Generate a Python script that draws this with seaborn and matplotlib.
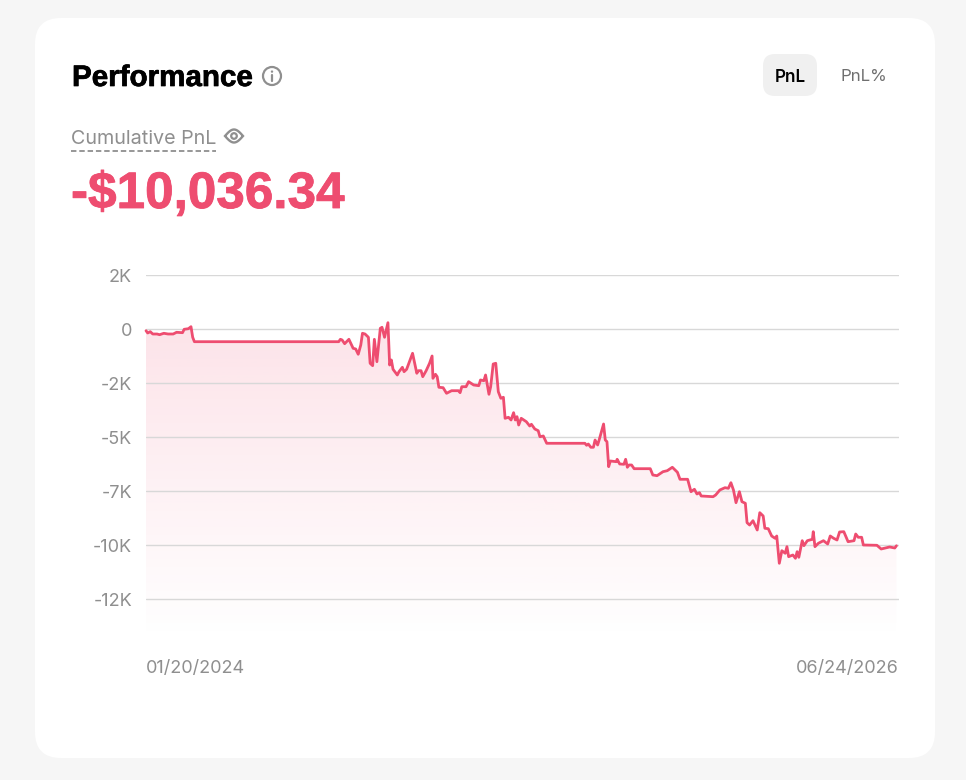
import numpy as np
import pandas as pd
import matplotlib
matplotlib.use("Agg")
import matplotlib.pyplot as plt
import matplotlib.patheffects as pe
from matplotlib.patches import FancyBboxPatch, Circle, Polygon
from matplotlib.transforms import ScaledTranslation
import seaborn as sns

days = [0,2,5,8,13,16,21,26,32,36,43,45,50,53,55,57,227,229,231,234,239,244,247,250,253,255,258,262,264,267,269,272,276,278,281,285,287,289,291,296,298,
302,304,307,314,319,321,324,326,330,334,337,338,341,343,345,350,354,360,368,370,372,377,380,386,392,394,398,400,404,406,409,412,415,418,421,423,427,430,433,435,437,439,442,448,452,454,458,462,464,468,472,517,519,521,524,527,529,532,534,537,539,541,543,545,547,554,555,558,563,565,567,569,572,575,594,
597,602,609,614,620,626,629,638,642,646,649,652,654,668,671,676,682,686,689,692,695,699,702,706,708,711,715,720,723,727,729,733,737,741,743,746,749,753,755,757,762,765,767,769,773,775,779,785,786,788,792,798,803,806,810,814,817,822,827,834,836,839,843,845,861,866,876,882,884]
pnl = [-79,-185,-125,-232,-232,-264,-199,-232,-232,-153,-171,-14,14,107,-384,-588,-588,-477,-509,-681,-477,-894,-926,-1171,-741,-199,-232,-384,-1588,-1699,-477,-1514,32,79,-384,292,-1667,-1435,-1866,-2130,-1977,
-1773,-1977,-1866,-1125,-2051,-1931,-1931,-2209,-1931,-1588,-1250,-2283,-2097,-2209,-2699,-2718,-2977,-2857,-2857,-2949,-2672,-2672,-2440,-2593,-2625,-2361,-2394,-2130,-3023,-2672,-1621,-1588,-2903,-3209,-3162,-4135,-4088,-4213,-3875,-4213,-4060,-4445,-4135,-4292,-4491,-4412,-4630,-4709,-4987,-4954,-5292,-5292,-5385,-5325,-5477,-5477,-5139,-5371,-5107,-4676,-4399,-5139,-5218,-6375,-6112,-6144,-6033,-6250,-6264,-6033,-6403,-6297,-6297,-6468,-6468,
-6760,-6792,-6607,-6561,-6403,-6635,-6959,-6959,-7533,-7422,-7640,-7579,-7732,-7765,-7686,-7454,-7348,-7376,-7116,-7454,-8042,-7533,-7996,-8070,-8968,-9075,-8876,-9306,-8505,-8658,-9228,-9246,-9584,-9690,-9584,-10848,-10265,-10385,-10079,-10542,-10464,-10617,-10311,-10570,-9802,-10033,-9802,-9736,-9385,-10079,-9922,-9802,-9954,-9584,-9690,-9769,-9399,-9385,-9848,-9802,-9492,-9644,-9644,-10001,-10015,-10186,-10093,-10140,-10036]
tick_values = [2500,0,-2500,-5000,-7500,-10000,-12500]
tick_labels = ["2K","0","-2K","-5K","-7K","-10K","-12K"]
start_label = "01/20/2024"
end_label = "06/24/2026"
total_label = "-$10,036.34"

RED = "#ee4d70"
GREY = "#8f8f8f"
W, H = 966, 780
sns.set_theme(style="white")
plt.rcParams["font.family"] = ["Inter", "DejaVu Sans"]
HEAVY = ["Liberation Sans", "DejaVu Sans"]

fig = plt.figure(figsize=(W/100, H/100), dpi=100, facecolor="#f6f6f6")

# page furniture in pixel coordinates
bg = fig.add_axes([0, 0, 1, 1], zorder=0)
bg.set_xlim(0, W); bg.set_ylim(H, 0); bg.axis("off")
bg.add_patch(FancyBboxPatch((35, 18), 900, 740, boxstyle="round,pad=0,rounding_size=26",
                            fc="white", ec="none"))
bg.add_patch(FancyBboxPatch((763, 54), 54, 42, boxstyle="round,pad=0,rounding_size=12",
                            fc="#f0f0f0", ec="none"))
title = bg.text(72, 75, "Performance", fontsize=21.3, family=HEAVY, fontweight="bold", color="black",
                va="center_baseline", ha="left")
title.set_path_effects([pe.withStroke(linewidth=0.5, foreground="black")])
bg.add_patch(Circle((272, 76), 9, fc="none", ec=GREY, lw=1.6))
bg.add_patch(Circle((272, 71.6), 1.2, fc=GREY, ec="none"))
bg.plot([272, 272], [75, 81], color=GREY, lw=1.6, solid_capstyle="round")
bg.text(790, 75, "PnL", fontsize=12.3, fontweight="semibold", color="black", ha="center", va="center_baseline")
bg.text(864, 75, "PnL%", fontsize=12.2, color="#6f6f6f", ha="center", va="center_baseline")
bg.text(71, 137, "Cumulative PnL", fontsize=14.2, color=GREY, ha="left", va="center_baseline")
bg.plot([71, 216], [151, 151], color=GREY, lw=1.3, dashes=(3, 1.6))
t = np.linspace(0, 1, 40)
eye_top = np.column_stack([225 + 18*t, 136 - 6.5*np.sin(np.pi*t)])
eye_bot = np.column_stack([225 + 18*t[::-1], 136 + 6.5*np.sin(np.pi*t[::-1])])
bg.add_patch(Polygon(np.vstack([eye_top, eye_bot]), closed=True, fc="none", ec=GREY, lw=1.7))
bg.add_patch(Circle((234, 136), 2.8, fc="none", ec=GREY, lw=1.6))
total = bg.text(71, 189, total_label, fontsize=36.9, family=HEAVY, fontweight="bold", color=RED,
                ha="left", va="center_baseline")
total.set_path_effects([pe.withStroke(linewidth=0.6, foreground=RED)])

# chart
px_top, px_bottom, px_left, px_right = 275, 640, 146, 899
ax = fig.add_axes([px_left/W, 1 - px_bottom/H, (px_right-px_left)/W, (px_bottom-px_top)/H], zorder=1)
ax.patch.set_alpha(0)
df = pd.DataFrame({"day": days, "pnl": pnl})

# vertical gradient clipped under the line
n = 256
rgba = np.ones((n, 1, 4))
rgba[..., :3] = matplotlib.colors.to_rgb("#f0486e")
rgba[:, 0, 3] = np.linspace(0.155, 0.0, n)
im = ax.imshow(rgba, extent=[0, 887, -14400, 292], origin="upper", aspect="auto", zorder=1)
verts = np.vstack([[days[0], -14400], np.column_stack([days, pnl]), [days[-1], -14400]])
clip = Polygon(verts, closed=True, transform=ax.transData, fc="none", ec="none")
ax.add_patch(clip)
im.set_clip_path(clip)

ax.grid(axis="y", color="#d8d8d8", lw=1)
ax.set_axisbelow(False)
ax.tick_params(axis="y", length=0, pad=10, labelsize=13, labelcolor=GREY)
for s in ax.spines.values():
    s.set_visible(False)
sns.lineplot(data=df, x="day", y="pnl", ax=ax, color=RED, lw=2, zorder=3, estimator=None, sort=False, clip_on=False)
ax.set_xlabel(""); ax.set_ylabel("")
ax.set_xlim(0, 887)
ax.set_ylim(-14400, 2500)
ax.set_xticks([])
ax.set_yticks(tick_values)
ax.set_yticklabels(tick_labels)
for gl in ax.get_ygridlines():
    gl.set_zorder(2)
for lab in ax.get_yticklabels():
    lab.set_transform(lab.get_transform() + ScaledTranslation(0, -0.01, fig.dpi_scale_trans))

bg.text(146, 666.5, start_label, fontsize=13, color=GREY, ha="left", va="center_baseline")
bg.text(899, 666.5, end_label, fontsize=13, color=GREY, ha="right", va="center_baseline")

fig.savefig("out.png", dpi=100, facecolor=fig.get_facecolor())
